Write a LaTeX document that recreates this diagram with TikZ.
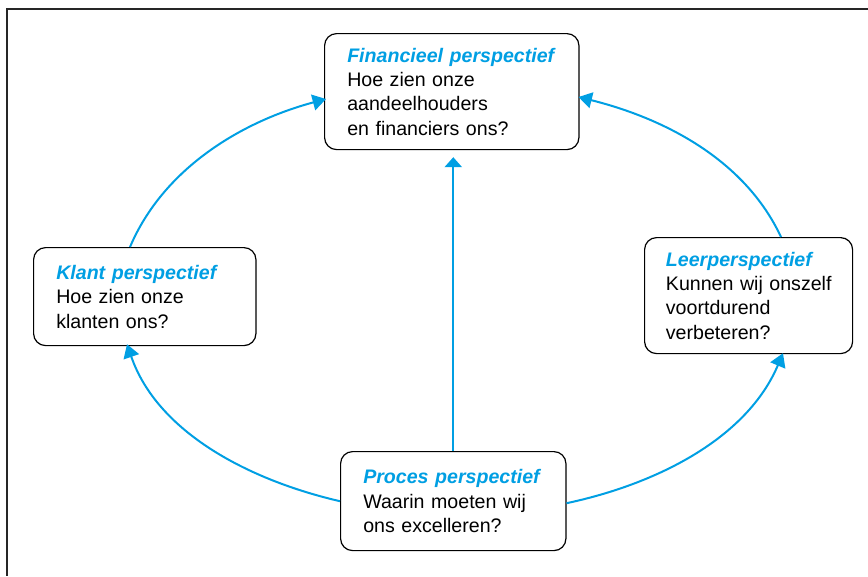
\documentclass[tikz,border=0pt]{standalone}
\usepackage{fontspec}
\setmainfont{Liberation Sans}
\usepackage{tikz}
\usetikzlibrary{arrows.meta,calc}
\definecolor{perspblue}{RGB}{0,159,227}
\newcommand{\perspkop}[1]{{\color{perspblue}\bfseries\itshape #1}}
\hyphenpenalty=10000

\begin{document}
\begin{tikzpicture}[x=0.75pt,y=0.75pt,
		persp/.style={draw,line width=0.9pt,rounded corners=9pt,fill=white,anchor=north west,
			inner xsep=17pt,inner ysep=0pt,align=left,font=\fontsize{14.7}{18.3}\selectfont},
		pijl/.style={draw=perspblue,line width=1.5pt,-{Triangle[length=10pt,width=12pt]}},
		lijnpijl/.style={draw=perspblue,line width=1.2pt,-{Triangle[length=7.5pt,width=13pt]}}]
		\useasboundingbox (0,0) rectangle (868,-576);
		\draw[black!85,line width=1.2pt] (868,-9) -- (7,-9) -- (7,-576);
		\node[persp,text width=156.75pt,minimum height=87pt] (fin) at (324,-33)
			{\perspkop{Financieel perspectief}\\Hoe zien onze\\aandeelhouders\\en financiers ons?};
		\node[persp,text width=132.75pt,minimum height=73.5pt] (klant) at (33,-247)
			{\perspkop{Klant perspectief}\\Hoe zien onze\\klanten ons?};
		\node[persp,inner xsep=16pt,text width=124pt,minimum height=87pt] (leer) at (644,-237)
			{\perspkop{Leerperspectief}\\\mbox{Kunnen wij onszelf}\\voortdurend\\verbeteren?};
		\node[persp,text width=135pt,minimum height=74.25pt] (proces) at (340,-451)
			{\perspkop{Proces perspectief}\\Waarin moeten wij\\ons excelleren?};
		\draw[pijl] ($(klant.north west)+(97,0)$) to[out=67,in=195,looseness=0.9] ($(fin.north west)+(2,-66)$);
		\draw[pijl] ($(proces.south west)+(0,50)$) to[out=167,in=289,looseness=0.9] ($(klant.south west)+(94,2)$);
		\draw[pijl] ($(proces.south east)+(0,48)$) to[out=12,in=247,looseness=0.9] ($(leer.south west)+(139,1)$);
		\draw[pijl] ($(leer.north west)+(137,0)$) to[out=115,in=346,looseness=0.9] ($(fin.north east)+(-1,-64)$);
		\draw[lijnpijl] (proces.north) -- ($(proces.north |- fin.south)+(0,-7)$);
\end{tikzpicture}
\end{document}
